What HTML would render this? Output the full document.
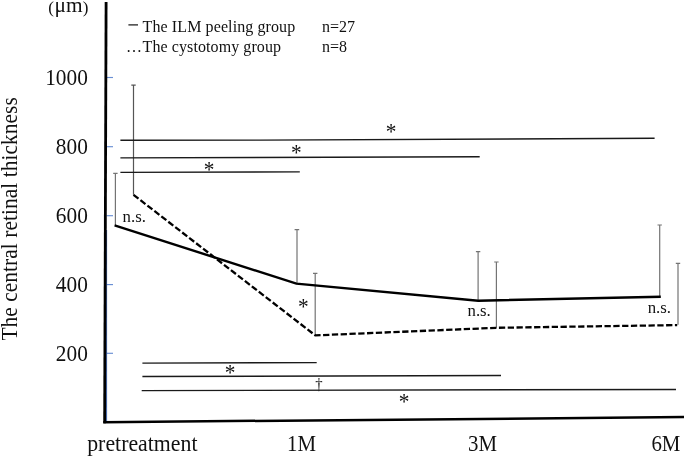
<!DOCTYPE html>
<html>
<head>
<meta charset="utf-8">
<title>The central retinal thickness</title>
<style>
html,body{margin:0;padding:0;background:#fff;}
body{width:685px;height:457px;overflow:hidden;}
svg{display:block;}
text{font-family:"Liberation Serif","Times New Roman",serif;fill:#111;}
.t21{font-size:21.33px;}
.t16{font-size:16px;}
.t17{font-size:16.8px;}
.sig{stroke:#1a1a1a;stroke-width:1.45;fill:none;}
.err{stroke:#747474;stroke-width:1.2;fill:none;}
.tick{stroke:#6a8fd4;stroke-width:1.15;fill:none;}
</style>
</head>
<body>
<svg width="685" height="457" viewBox="0 0 685 457">
<rect x="0" y="0" width="685" height="457" fill="#ffffff"/>

<!-- axis tick marks -->
<line class="tick" x1="106.5" y1="77.5" x2="113" y2="77.5"/>
<line class="tick" x1="106.5" y1="146.7" x2="113" y2="146.7"/>
<line class="tick" x1="106.5" y1="215.7" x2="113" y2="215.7"/>
<line class="tick" x1="106.5" y1="284.6" x2="113" y2="284.6"/>
<line class="tick" x1="106.5" y1="353.3" x2="113" y2="353.3"/>

<!-- axes -->
<line x1="106.6" y1="230" x2="106.6" y2="422" stroke="#3b62ad" stroke-width="1"/>
<line x1="106.1" y1="2" x2="104.65" y2="423.2" stroke="#000" stroke-width="2.8"/>
<line x1="103.3" y1="422.2" x2="684" y2="417.1" stroke="#000" stroke-width="2.5"/>

<!-- y axis labels -->
<text y="12.3" style="font-size:21.33px"><tspan x="48.2" y="12.8" style="font-size:17px">(</tspan><tspan x="54.6" y="12.3">μm</tspan><tspan x="82.8" y="12.8" style="font-size:17px">)</tspan></text>
<text class="t21" transform="translate(87.8,85.2) scale(1.0,1.09)" text-anchor="end">1000</text>
<text class="t21" transform="translate(87.8,154.2) scale(1.0,1.09)" text-anchor="end">800</text>
<text class="t21" transform="translate(87.8,223.2) scale(1.0,1.09)" text-anchor="end">600</text>
<text class="t21" transform="translate(87.8,292.0) scale(1.0,1.09)" text-anchor="end">400</text>
<text class="t21" transform="translate(87.8,360.8) scale(1.0,1.09)" text-anchor="end">200</text>

<!-- y axis title -->
<text class="t21" transform="translate(17,340.6) rotate(-90) scale(1,1.07)" textLength="243.4" lengthAdjust="spacing">The central retinal thickness</text>

<!-- x axis labels -->
<text class="t21" transform="translate(87.2,450.6) scale(1.024,1.06)">pretreatment</text>
<text class="t21" transform="translate(287,451.3) scale(0.98,1.09)">1M</text>
<text class="t21" transform="translate(468,451.3) scale(0.98,1.09)">3M</text>
<text class="t21" transform="translate(651.4,451.3) scale(0.98,1.09)">6M</text>

<!-- legend -->
<line x1="128.4" y1="24.9" x2="138" y2="24.9" stroke="#111" stroke-width="1.2"/>
<text class="t16" x="142.6" y="31.7" textLength="152.6" lengthAdjust="spacing">The ILM peeling group</text>
<text class="t16" x="322" y="31.7">n=27</text>
<text class="t16" x="126" y="51.6">…</text>
<text class="t16" x="142.6" y="51.6" textLength="138.4" lengthAdjust="spacing">The cystotomy group</text>
<text class="t16" x="322" y="51.6">n=8</text>

<!-- error bars -->
<g class="err">
<path d="M115.4 225.4V173.4M113.2 173.4H117.6"/>
<path d="M133.5 194.8V85.1M131.3 85.1H135.7" stroke="#555"/>
<path d="M297 283.5V229.6M294.6 229.6H299.2"/>
<path d="M315.2 335.4V273.4M313 273.4H317.4"/>
<path d="M478.1 300.6V251.6M475.9 251.6H480.3"/>
<path d="M496.4 327.8V262M494.2 262H498.6"/>
<path d="M659.7 296.3V225M657.5 225H661.9"/>
<path d="M678 324.8V263.4M675.8 263.4H680.2"/>
</g>

<!-- significance lines -->
<polyline class="sig" points="120.4,140.3 260,140.1 654.6,138.3"/>
<line class="sig" x1="120.4" y1="157.9" x2="479.7" y2="156.8"/>
<line class="sig" x1="120.4" y1="172.4" x2="299.8" y2="171.9"/>
<line class="sig" x1="142.4" y1="363.1" x2="316.7" y2="362.6"/>
<line class="sig" x1="142.4" y1="376.5" x2="501" y2="375.4"/>
<line class="sig" x1="141.7" y1="390.6" x2="676" y2="389.5"/>

<!-- data lines -->
<polyline points="114.6,225.4 296.4,283.6 478.2,300.7 660.8,296.8" fill="none" stroke="#000" stroke-width="2.4" stroke-linejoin="miter"/>
<polyline points="133.5,194.8 315.3,335.4 496.3,327.8 677.2,325.1" fill="none" stroke="#000" stroke-width="2.3" stroke-dasharray="6.3 2.5" stroke-linejoin="miter"/>

<!-- annotations -->
<text class="t21" transform="translate(391.2,138.85) scale(1,1.13)" text-anchor="middle">*</text>
<text class="t21" transform="translate(296.3,160.05) scale(1,1.13)" text-anchor="middle">*</text>
<text class="t21" transform="translate(209.1,176.8) scale(1,1.13)" text-anchor="middle">*</text>
<text class="t21" transform="translate(303.25,314.1) scale(1,1.13)" text-anchor="middle">*</text>
<text class="t21" transform="translate(230.0,379.8) scale(1,1.13)" text-anchor="middle">*</text>
<text class="t21" transform="translate(404.1,408.9) scale(1,1.13)" text-anchor="middle">*</text>
<text class="t16" transform="translate(318.9,390.1) scale(0.92,1.1)" text-anchor="middle">†</text>
<text class="t17" x="122.6" y="221.6">n.s.</text>
<text class="t17" x="467.5" y="316.2">n.s.</text>
<text class="t17" x="647.7" y="313">n.s.</text>
</svg>
</body>
</html>
